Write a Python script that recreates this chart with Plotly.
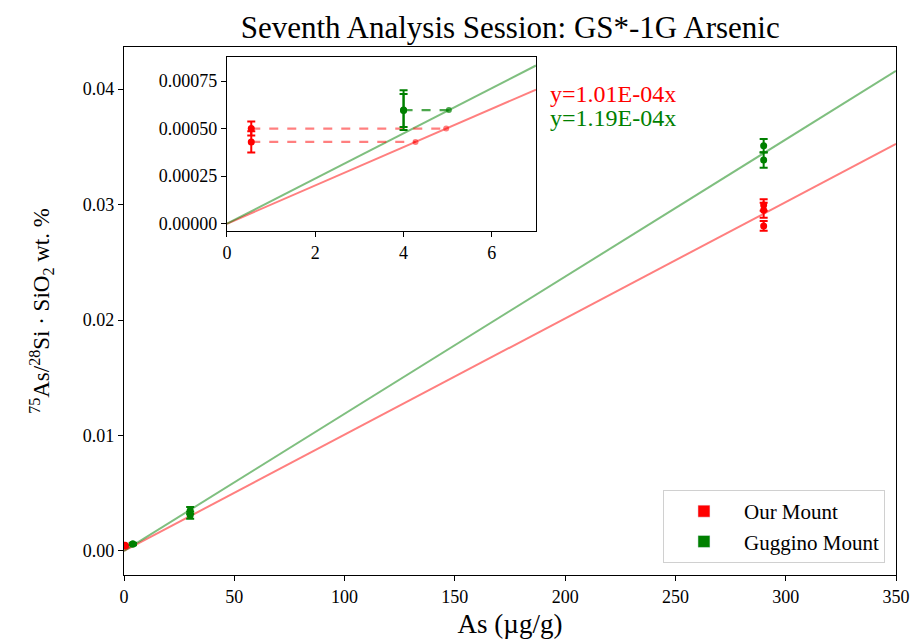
import numpy as np
import plotly.graph_objects as go

# ---- data ----
red_x = [0.55, 0.55, 290, 290, 290]
red_y = [0.000500, 0.000430, 0.02995, 0.02950, 0.02815]
red_err = [0.000037, 0.000056, 0.00050, 0.00065, 0.00043]

green_x = [4, 4, 30, 30, 290, 290]
green_y = [0.000597, 0.000595, 0.00350, 0.00310, 0.03509, 0.03385]
green_err = [0.000105, 0.000087, 0.00030, 0.00030, 0.00058, 0.00067]

series_names = ["Our Mount", "Guggino Mount"]
main_xticks = [0, 50, 100, 150, 200, 250, 300, 350]
main_yticks = [0.00, 0.01, 0.02, 0.03, 0.04]
inset_xticks = [0, 2, 4, 6]
inset_yticks = [0.0, 0.00025, 0.0005, 0.00075]

RED = "#ff0000"
GREEN = "#008000"
RED_A = "rgba(255,0,0,0.5)"
GREEN_A = "rgba(0,128,0,0.5)"
FONT = "Liberation Serif"


def slope_through_origin(x, y):
    x = np.asarray(x, float)
    y = np.asarray(y, float)
    return float((x * y).sum() / (x * x).sum())


s_red = slope_through_origin(red_x, red_y)
s_green = slope_through_origin(green_x, green_y)

fig = go.Figure()

# main fit lines
for s, c in [(s_red, RED_A), (s_green, GREEN_A)]:
    xs = [0, 350]
    fig.add_trace(go.Scatter(x=xs, y=[s * v for v in xs], mode="lines",
                             line=dict(color=c, width=2), showlegend=False,
                             hoverinfo="skip", xaxis="x", yaxis="y"))

# main points
for xs, ys, es, c in [(red_x, red_y, red_err, RED), (green_x, green_y, green_err, GREEN)]:
    fig.add_trace(go.Scatter(x=xs, y=ys, mode="markers",
                             marker=dict(color=c, size=7),
                             error_y=dict(type="data", array=es, color=c, thickness=2, width=4),
                             showlegend=False, xaxis="x", yaxis="y"))

# inset fit lines
for s, c in [(s_red, RED_A), (s_green, GREEN_A)]:
    xs = [0, 7]
    fig.add_trace(go.Scatter(x=xs, y=[s * v for v in xs], mode="lines",
                             line=dict(color=c, width=2), showlegend=False,
                             hoverinfo="skip", xaxis="x2", yaxis="y2"))

# inset dashed projections
for xs, ys, s, c in [(red_x, red_y, s_red, RED_A), (green_x, green_y, s_green, "rgba(0,128,0,0.7)")]:
    done = set()
    for xv, yv in zip(xs, ys):
        if xv > 7:
            continue
        key = round(yv, 5)
        if key in done:
            continue
        done.add(key)
        fig.add_trace(go.Scatter(x=[xv, yv / s], y=[yv, yv], mode="lines+markers",
                                 line=dict(color=c, width=2.2, dash="dash"),
                                 marker=dict(color=c, size=6),
                                 showlegend=False, hoverinfo="skip", xaxis="x2", yaxis="y2"))

# inset points
for xs, ys, es, c in [(red_x, red_y, red_err, RED), (green_x, green_y, green_err, GREEN)]:
    fig.add_trace(go.Scatter(x=xs, y=ys, mode="markers",
                             marker=dict(color=c, size=7),
                             error_y=dict(type="data", array=es, color=c, thickness=2, width=4),
                             showlegend=False, xaxis="x2", yaxis="y2"))

# legend entries
for name, c in zip(series_names, [RED, GREEN]):
    fig.add_trace(go.Bar(x=[None], y=[None], name=name, marker=dict(color=c),
                         xaxis="x", yaxis="y"))

axis_common = dict(showgrid=False, zeroline=False, showline=True, linecolor="black",
                   linewidth=1.3, mirror=True, ticks="outside", ticklen=5,
                   tickcolor="black", tickwidth=1.3, automargin=False)

fig.update_layout(
    width=912, height=640,
    margin=dict(l=124, r=16, t=47, b=65),
    paper_bgcolor="white", plot_bgcolor="white",
    font=dict(family=FONT, color="black", size=18),
    title=dict(text="Seventh Analysis Session: GS*-1G Arsenic", x=0.5594, xanchor="center",
               y=0.957, yanchor="middle", font=dict(size=31, family=FONT)),
    xaxis=dict(domain=[0, 1], range=[0, 350], tickvals=main_xticks,
               title=dict(text="As (µg/g)", font=dict(size=27), standoff=8),
               tickfont=dict(size=18), **axis_common),
    yaxis=dict(domain=[0, 1], range=[-0.00208, 0.04364], tickvals=main_yticks, tickformat=".2f",
               title=dict(text="<sup>75</sup>As/<sup>28</sup>Si · SiO<sub>2</sub> wt. %",
                          font=dict(size=23), standoff=26),
               tickfont=dict(size=18), **axis_common),
    xaxis2=dict(domain=[0.1334, 0.5337], range=[0, 7], tickvals=inset_xticks, anchor="y2",
                tickfont=dict(size=18), **axis_common),
    yaxis2=dict(domain=[0.6515, 0.981], range=[-0.0000383, 0.000876], tickvals=inset_yticks,
                tickformat=".5f", anchor="x2", tickfont=dict(size=18), **axis_common),
    legend=dict(x=0.9857, xanchor="right", y=0.0227, yanchor="bottom",
                bgcolor="rgba(255,255,255,0.8)", bordercolor="#d0d0d0", borderwidth=1,
                font=dict(size=21, family=FONT), itemwidth=70, tracegroupgap=0),
    showlegend=True,
)

# equation labels
fig.add_annotation(text=f"y={s_red:.2E}x", xref="paper", yref="paper",
                   x=(548 - 124) / 772, y=(575 - 94) / 528, xanchor="left", yanchor="middle",
                   showarrow=False, font=dict(size=24, color=RED, family=FONT))
fig.add_annotation(text=f"y={s_green:.2E}x", xref="paper", yref="paper",
                   x=(548 - 124) / 772, y=(575 - 118) / 528, xanchor="left", yanchor="middle",
                   showarrow=False, font=dict(size=24, color=GREEN, family=FONT))

# remove the default 8px page margin so the figure sits at the window origin
fig.write_html("out.html", config={"displayModeBar": False},
               post_script="document.body.style.margin='0';")
